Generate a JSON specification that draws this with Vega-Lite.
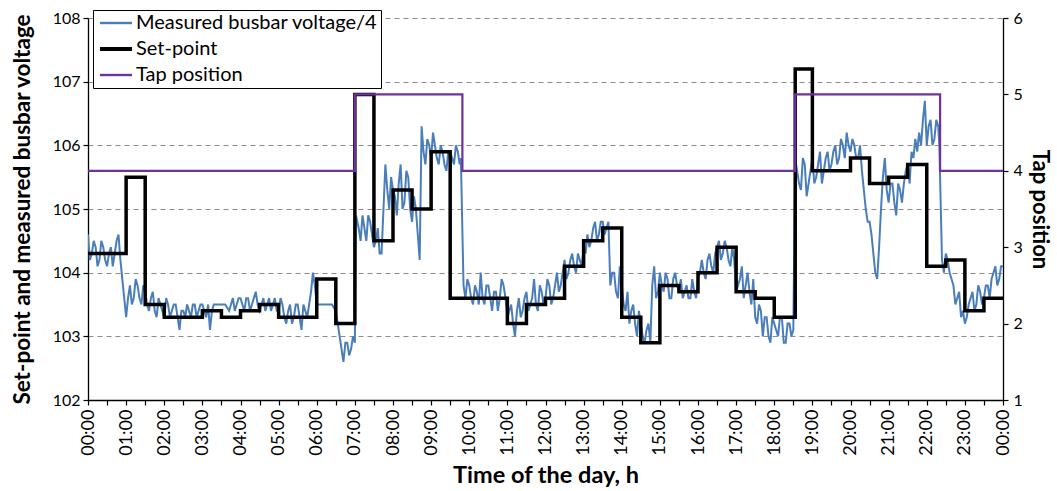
{
  "$schema": "https://vega.github.io/schema/vega-lite/v6.json",
  "width": 915,
  "height": 382,
  "autosize": "none",
  "padding": {"left": 88, "top": 18, "right": 54, "bottom": 91},
  "background": "white",
  "config": {
    "font": "Lato",
    "view": {"stroke": null},
    "axis": {
      "domainColor": "black",
      "domainWidth": 1.3,
      "tickColor": "black",
      "tickWidth": 1.2,
      "tickSize": 5,
      "labelColor": "black",
      "titleColor": "black",
      "labelFont": "Lato",
      "titleFont": "Lato",
      "labelOverlap": false
    },
    "legend": {
      "orient": "none",
      "legendX": 5,
      "legendY": -8,
      "title": null,
      "symbolType": "M-0.46,0H2.0",
      "symbolSize": 676,
      "symbolStrokeWidth": 2.5,
      "labelFontSize": 20,
      "labelLimit": 0,
      "labelColor": "black",
      "labelOffset": 20,
      "padding": 3,
      "rowPadding": 6,
      "strokeColor": "black",
      "fillColor": "white"
    }
  },
  "datasets": {
    "measured": [
      {"t":0.0,"v":104.6},{"t":0.1,"v":104.3},{"t":0.2,"v":104.4},{"t":0.3,"v":104.2},{"t":0.4,"v":104.4},
      {"t":0.5,"v":104.1},{"t":0.6,"v":104.4},{"t":0.7,"v":104.3},{"t":0.8,"v":104.6},{"t":0.9,"v":103.9},
      {"t":1.0,"v":103.3},{"t":1.1,"v":103.8},{"t":1.2,"v":103.6},{"t":1.3,"v":103.8},{"t":1.4,"v":103.5},
      {"t":1.5,"v":103.7},{"t":1.6,"v":103.4},{"t":1.7,"v":103.7},{"t":1.8,"v":103.3},{"t":1.9,"v":103.5},
      {"t":2.0,"v":103.3},{"t":2.1,"v":103.5},{"t":2.2,"v":103.4},{"t":2.3,"v":103.5},{"t":2.4,"v":103.1},
      {"t":2.5,"v":103.4},{"t":2.6,"v":103.5},{"t":2.7,"v":103.3},{"t":2.8,"v":103.5},{"t":2.9,"v":103.4},
      {"t":3.0,"v":103.5},{"t":3.1,"v":103.3},{"t":3.2,"v":103.1},{"t":3.3,"v":103.5},{"t":3.4,"v":103.5},
      {"t":3.5,"v":103.5},{"t":3.6,"v":103.5},{"t":3.7,"v":103.4},{"t":3.8,"v":103.6},{"t":3.9,"v":103.5},
      {"t":4.0,"v":103.6},{"t":4.1,"v":103.4},{"t":4.2,"v":103.6},{"t":4.3,"v":103.5},{"t":4.4,"v":103.7},
      {"t":4.5,"v":103.4},{"t":4.6,"v":103.6},{"t":4.7,"v":103.5},{"t":4.8,"v":103.4},{"t":4.9,"v":103.6},
      {"t":5.0,"v":103.4},{"t":5.1,"v":103.5},{"t":5.2,"v":103.2},{"t":5.3,"v":103.5},{"t":5.4,"v":103.3},
      {"t":5.5,"v":103.5},{"t":5.6,"v":103.1},{"t":5.7,"v":103.4},{"t":5.8,"v":103.5},{"t":5.9,"v":104.0},
      {"t":6.0,"v":103.5},{"t":6.1,"v":103.5},{"t":6.2,"v":103.5},{"t":6.3,"v":103.5},{"t":6.4,"v":103.5},
      {"t":6.5,"v":103.4},{"t":6.6,"v":103.0},{"t":6.7,"v":102.6},{"t":6.8,"v":102.9},{"t":6.9,"v":102.8},
      {"t":7.0,"v":102.9},{"t":7.03,"v":104.9},{"t":7.1,"v":104.7},{"t":7.2,"v":104.9},{"t":7.3,"v":104.5},
      {"t":7.4,"v":104.8},{"t":7.5,"v":104.4},{"t":7.6,"v":104.7},{"t":7.7,"v":104.3},{"t":7.8,"v":105.7},
      {"t":7.9,"v":105.0},{"t":8.0,"v":105.3},{"t":8.1,"v":104.9},{"t":8.2,"v":105.7},{"t":8.3,"v":105.1},
      {"t":8.4,"v":105.5},{"t":8.5,"v":104.8},{"t":8.6,"v":105.0},{"t":8.7,"v":104.2},{"t":8.75,"v":106.3},
      {"t":8.8,"v":105.9},{"t":8.9,"v":106.1},{"t":9.0,"v":105.8},{"t":9.1,"v":106.0},{"t":9.2,"v":105.7},
      {"t":9.3,"v":105.9},{"t":9.4,"v":105.6},{"t":9.5,"v":105.9},{"t":9.6,"v":105.7},{"t":9.7,"v":105.9},
      {"t":9.78,"v":105.8},{"t":9.85,"v":103.8},{"t":9.9,"v":103.6},{"t":10.0,"v":103.8},{"t":10.1,"v":103.5},
      {"t":10.2,"v":103.7},{"t":10.3,"v":104.0},{"t":10.4,"v":103.5},{"t":10.5,"v":103.8},{"t":10.6,"v":103.4},
      {"t":10.7,"v":103.7},{"t":10.8,"v":103.6},{"t":10.9,"v":103.8},{"t":11.0,"v":103.3},{"t":11.1,"v":103.5},
      {"t":11.2,"v":103.0},{"t":11.3,"v":103.6},{"t":11.4,"v":103.4},{"t":11.5,"v":103.7},{"t":11.6,"v":103.5},
      {"t":11.7,"v":103.9},{"t":11.8,"v":103.4},{"t":11.9,"v":103.7},{"t":12.0,"v":103.6},{"t":12.1,"v":103.8},
      {"t":12.2,"v":103.6},{"t":12.3,"v":104.0},{"t":12.4,"v":103.8},{"t":12.5,"v":104.2},{"t":12.6,"v":104.0},
      {"t":12.7,"v":104.3},{"t":12.8,"v":104.0},{"t":12.9,"v":104.2},{"t":13.0,"v":104.4},{"t":13.1,"v":104.6},
      {"t":13.2,"v":104.5},{"t":13.3,"v":104.8},{"t":13.4,"v":104.6},{"t":13.5,"v":104.8},{"t":13.6,"v":104.7},
      {"t":13.7,"v":103.8},{"t":13.8,"v":104.0},{"t":13.9,"v":103.6},{"t":14.0,"v":103.8},{"t":14.1,"v":103.4},
      {"t":14.2,"v":103.2},{"t":14.3,"v":103.5},{"t":14.4,"v":103.0},{"t":14.5,"v":103.2},{"t":14.6,"v":102.9},
      {"t":14.7,"v":103.2},{"t":14.8,"v":103.8},{"t":14.9,"v":103.6},{"t":15.0,"v":104.0},{"t":15.1,"v":103.7},
      {"t":15.2,"v":103.9},{"t":15.3,"v":103.6},{"t":15.4,"v":104.0},{"t":15.5,"v":103.7},{"t":15.6,"v":103.6},
      {"t":15.7,"v":103.8},{"t":15.8,"v":103.6},{"t":15.9,"v":103.7},{"t":16.0,"v":103.9},{"t":16.1,"v":104.2},
      {"t":16.2,"v":103.9},{"t":16.3,"v":104.3},{"t":16.4,"v":104.0},{"t":16.5,"v":104.4},{"t":16.6,"v":104.2},
      {"t":16.7,"v":104.5},{"t":16.8,"v":104.2},{"t":16.9,"v":104.4},{"t":17.0,"v":103.7},{"t":17.1,"v":103.9},
      {"t":17.2,"v":103.6},{"t":17.3,"v":104.0},{"t":17.4,"v":103.5},{"t":17.5,"v":103.3},{"t":17.6,"v":103.5},
      {"t":17.7,"v":103.0},{"t":17.8,"v":103.3},{"t":17.9,"v":102.9},{"t":18.0,"v":103.2},{"t":18.1,"v":103.0},
      {"t":18.2,"v":103.3},{"t":18.3,"v":102.9},{"t":18.4,"v":103.2},{"t":18.5,"v":103.1},{"t":18.55,"v":105.8},
      {"t":18.6,"v":105.6},{"t":18.7,"v":105.3},{"t":18.8,"v":105.7},{"t":18.9,"v":105.4},{"t":19.0,"v":105.8},
      {"t":19.1,"v":105.5},{"t":19.2,"v":105.9},{"t":19.3,"v":105.6},{"t":19.4,"v":105.9},{"t":19.5,"v":105.7},
      {"t":19.6,"v":106.0},{"t":19.7,"v":105.8},{"t":19.8,"v":106.0},{"t":19.9,"v":106.2},{"t":20.0,"v":105.9},
      {"t":20.1,"v":106.0},{"t":20.2,"v":105.8},{"t":20.3,"v":105.6},{"t":20.4,"v":105.0},{"t":20.5,"v":104.8},
      {"t":20.6,"v":104.3},{"t":20.7,"v":103.9},{"t":20.8,"v":105.0},{"t":20.9,"v":105.8},{"t":21.0,"v":105.1},
      {"t":21.1,"v":105.4},{"t":21.2,"v":104.9},{"t":21.3,"v":105.3},{"t":21.4,"v":105.4},{"t":21.5,"v":105.7},
      {"t":21.6,"v":105.9},{"t":21.7,"v":106.1},{"t":21.8,"v":106.2},{"t":21.9,"v":106.4},{"t":21.95,"v":106.7},
      {"t":22.0,"v":106.0},{"t":22.1,"v":106.4},{"t":22.2,"v":106.1},{"t":22.3,"v":106.3},{"t":22.33,"v":106.0},
      {"t":22.4,"v":104.2},{"t":22.5,"v":104.3},{"t":22.6,"v":104.0},{"t":22.7,"v":103.8},{"t":22.8,"v":103.6},
      {"t":22.9,"v":103.3},{"t":23.0,"v":103.2},{"t":23.1,"v":103.5},{"t":23.2,"v":103.7},{"t":23.3,"v":103.5},
      {"t":23.4,"v":103.7},{"t":23.5,"v":103.6},{"t":23.6,"v":103.8},{"t":23.7,"v":103.9},{"t":23.8,"v":104.1},
      {"t":23.9,"v":103.9},{"t":24.0,"v":104.1},
      {"t":0.05,"v":104.2},{"t":0.15,"v":104.5},{"t":0.25,"v":104.1},{"t":0.35,"v":104.5},{"t":0.45,"v":104.2},
      {"t":0.55,"v":104.3},{"t":0.65,"v":104.1},{"t":0.75,"v":104.5},{"t":0.85,"v":104.2},{"t":0.95,"v":103.6},
      {"t":1.05,"v":103.6},{"t":1.15,"v":103.5},{"t":1.25,"v":103.9},{"t":1.35,"v":103.6},{"t":1.45,"v":103.8},
      {"t":1.55,"v":103.5},{"t":1.65,"v":103.6},{"t":1.75,"v":103.4},{"t":1.85,"v":103.6},{"t":1.95,"v":103.4},
      {"t":2.05,"v":103.6},{"t":2.15,"v":103.3},{"t":2.25,"v":103.5},{"t":2.35,"v":103.3},{"t":2.45,"v":103.4},
      {"t":2.55,"v":103.3},{"t":2.65,"v":103.4},{"t":2.75,"v":103.5},{"t":2.85,"v":103.3},{"t":2.95,"v":103.5},
      {"t":3.05,"v":103.4},{"t":3.15,"v":103.5},{"t":3.25,"v":103.4},{"t":3.75,"v":103.5},{"t":3.85,"v":103.4},
      {"t":3.95,"v":103.6},{"t":4.05,"v":103.5},{"t":4.15,"v":103.6},{"t":4.25,"v":103.4},{"t":4.35,"v":103.6},
      {"t":4.45,"v":103.5},{"t":4.55,"v":103.5},{"t":4.65,"v":103.4},{"t":4.75,"v":103.6},{"t":4.85,"v":103.5},
      {"t":4.95,"v":103.4},{"t":5.05,"v":103.6},{"t":5.15,"v":103.3},{"t":5.25,"v":103.4},{"t":5.35,"v":103.2},
      {"t":5.45,"v":103.5},{"t":5.55,"v":103.3},{"t":5.65,"v":103.5},{"t":5.75,"v":103.3},{"t":5.85,"v":103.7},
      {"t":5.95,"v":103.8},{"t":6.55,"v":103.2},{"t":6.65,"v":102.8},{"t":6.75,"v":102.9},{"t":6.85,"v":102.7},
      {"t":6.95,"v":103.0},{"t":7.15,"v":104.5},{"t":7.25,"v":104.7},{"t":7.35,"v":104.9},{"t":7.45,"v":104.6},
      {"t":7.55,"v":104.5},{"t":7.65,"v":104.3},{"t":7.75,"v":105.0},{"t":7.85,"v":105.3},{"t":7.95,"v":105.5},
      {"t":8.05,"v":105.2},{"t":8.15,"v":105.4},{"t":8.25,"v":105.0},{"t":8.35,"v":105.6},{"t":8.45,"v":105.0},
      {"t":8.55,"v":105.2},{"t":8.65,"v":104.6},{"t":8.85,"v":105.7},{"t":8.95,"v":106.0},{"t":9.05,"v":106.2},
      {"t":9.15,"v":105.8},{"t":9.25,"v":106.0},{"t":9.35,"v":105.7},{"t":9.45,"v":105.9},{"t":9.55,"v":105.8},
      {"t":9.65,"v":106.0},{"t":9.75,"v":105.7},{"t":9.95,"v":103.9},{"t":10.05,"v":103.6},{"t":10.15,"v":103.8},
      {"t":10.25,"v":103.5},{"t":10.35,"v":103.6},{"t":10.45,"v":103.8},{"t":10.55,"v":103.6},{"t":10.65,"v":103.7},
      {"t":10.75,"v":103.4},{"t":10.85,"v":103.9},{"t":10.95,"v":103.6},{"t":11.05,"v":103.4},{"t":11.15,"v":103.2},
      {"t":11.25,"v":103.4},{"t":11.35,"v":103.3},{"t":11.45,"v":103.6},{"t":11.55,"v":103.4},{"t":11.65,"v":103.6},
      {"t":11.75,"v":103.5},{"t":11.85,"v":103.8},{"t":11.95,"v":103.5},{"t":12.05,"v":103.9},{"t":12.15,"v":103.5},
      {"t":12.25,"v":103.8},{"t":12.35,"v":103.7},{"t":12.45,"v":104.0},{"t":12.55,"v":103.9},{"t":12.65,"v":104.2},
      {"t":12.75,"v":104.1},{"t":12.85,"v":104.3},{"t":12.95,"v":104.1},{"t":13.05,"v":104.3},{"t":13.15,"v":104.4},
      {"t":13.25,"v":104.7},{"t":13.35,"v":104.5},{"t":13.45,"v":104.8},{"t":13.55,"v":104.6},{"t":13.65,"v":104.8},
      {"t":13.75,"v":104.0},{"t":13.85,"v":103.7},{"t":13.95,"v":104.1},{"t":14.05,"v":103.5},{"t":14.15,"v":103.7},
      {"t":14.25,"v":103.4},{"t":14.35,"v":103.2},{"t":14.45,"v":103.4},{"t":14.55,"v":103.0},{"t":14.65,"v":103.1},
      {"t":14.75,"v":102.9},{"t":14.85,"v":104.1},{"t":14.95,"v":103.7},{"t":15.05,"v":103.8},{"t":15.15,"v":104.0},
      {"t":15.25,"v":103.6},{"t":15.35,"v":103.9},{"t":15.45,"v":103.8},{"t":15.55,"v":103.9},{"t":15.65,"v":103.7},
      {"t":15.75,"v":103.6},{"t":15.85,"v":103.9},{"t":15.95,"v":103.6},{"t":16.05,"v":104.0},{"t":16.15,"v":104.0},
      {"t":16.25,"v":104.2},{"t":16.35,"v":104.1},{"t":16.45,"v":104.3},{"t":16.55,"v":104.5},{"t":16.65,"v":104.3},
      {"t":16.75,"v":104.4},{"t":16.85,"v":104.1},{"t":16.95,"v":104.2},{"t":17.05,"v":103.8},{"t":17.15,"v":104.1},
      {"t":17.25,"v":103.8},{"t":17.35,"v":103.7},{"t":17.45,"v":103.9},{"t":17.55,"v":103.2},{"t":17.65,"v":103.4},
      {"t":17.75,"v":103.3},{"t":17.85,"v":103.0},{"t":17.95,"v":103.3},{"t":18.05,"v":103.1},{"t":18.15,"v":103.3},
      {"t":18.25,"v":102.9},{"t":18.35,"v":103.2},{"t":18.45,"v":103.0},{"t":18.65,"v":105.4},{"t":18.75,"v":105.8},
      {"t":18.85,"v":105.2},{"t":18.95,"v":105.6},{"t":19.05,"v":105.4},{"t":19.15,"v":105.7},{"t":19.25,"v":105.4},
      {"t":19.35,"v":105.8},{"t":19.45,"v":105.6},{"t":19.55,"v":105.9},{"t":19.65,"v":105.7},{"t":19.75,"v":106.1},
      {"t":19.85,"v":105.8},{"t":19.95,"v":106.0},{"t":20.05,"v":106.1},{"t":20.15,"v":105.8},{"t":20.25,"v":106.0},
      {"t":20.35,"v":105.3},{"t":20.45,"v":104.8},{"t":20.55,"v":104.6},{"t":20.65,"v":104.0},{"t":20.75,"v":104.4},
      {"t":20.85,"v":105.5},{"t":20.95,"v":105.3},{"t":21.05,"v":105.4},{"t":21.15,"v":105.1},{"t":21.25,"v":105.4},
      {"t":21.35,"v":105.1},{"t":21.45,"v":105.6},{"t":21.55,"v":105.4},{"t":21.65,"v":105.8},{"t":21.75,"v":105.9},
      {"t":21.85,"v":106.0},{"t":22.05,"v":106.3},{"t":22.15,"v":106.0},{"t":22.25,"v":106.4},{"t":22.45,"v":104.0},
      {"t":22.55,"v":104.2},{"t":22.65,"v":103.9},{"t":22.75,"v":103.5},{"t":22.85,"v":103.7},{"t":22.95,"v":103.4},
      {"t":23.05,"v":103.3},{"t":23.15,"v":103.6},{"t":23.25,"v":103.4},{"t":23.35,"v":103.8},{"t":23.45,"v":103.5},
      {"t":23.55,"v":103.8},{"t":23.65,"v":103.6},{"t":23.75,"v":104.0},{"t":23.85,"v":103.8},{"t":23.95,"v":104.1}
    ],
    "setpoint": [
      {"t":0,"v":104.3},{"t":1.0,"v":105.5},{"t":1.5,"v":103.5},{"t":2.0,"v":103.3},{"t":3.0,"v":103.4},
      {"t":3.5,"v":103.3},{"t":4.0,"v":103.4},{"t":4.5,"v":103.5},{"t":5.0,"v":103.3},{"t":6.0,"v":103.9},
      {"t":6.5,"v":103.2},{"t":7.0,"v":106.8},{"t":7.5,"v":104.5},{"t":8.0,"v":105.3},{"t":8.5,"v":105.0},
      {"t":9.0,"v":105.9},{"t":9.5,"v":103.6},{"t":11.0,"v":103.2},{"t":11.5,"v":103.5},{"t":12.0,"v":103.6},
      {"t":12.5,"v":104.1},{"t":13.0,"v":104.5},{"t":13.5,"v":104.7},{"t":14.0,"v":103.3},{"t":14.5,"v":102.9},
      {"t":15.0,"v":103.8},{"t":15.5,"v":103.7},{"t":16.0,"v":104.0},{"t":16.5,"v":104.4},{"t":17.0,"v":103.7},
      {"t":17.5,"v":103.6},{"t":18.0,"v":103.3},{"t":18.55,"v":107.2},{"t":19.0,"v":105.6},{"t":20.0,"v":105.8},
      {"t":20.5,"v":105.4},{"t":21.0,"v":105.5},{"t":21.5,"v":105.7},{"t":22.0,"v":104.1},{"t":22.5,"v":104.2},
      {"t":23.0,"v":103.4},{"t":23.5,"v":103.6},{"t":24.0,"v":103.6}
    ],
    "tap": [
      {"t":0,"p":4},{"t":7.0,"p":5},{"t":9.82,"p":4},{"t":18.55,"p":5},{"t":22.35,"p":4},{"t":24.0,"p":4}
    ]
  },
  "layer": [
    {
      "layer": [
        {
          "data": {"name": "measured"},
          "mark": {"type": "line", "strokeWidth": 2, "clip": true},
          "encoding": {
            "x": {
              "field": "t",
              "type": "quantitative",
              "scale": {"domain": [0, 24], "nice": false, "zero": false},
              "axis": {
                "values": [0,0.5,1,1.5,2,2.5,3,3.5,4,4.5,5,5.5,6,6.5,7,7.5,8,8.5,9,9.5,10,10.5,11,11.5,12,12.5,13,13.5,14,14.5,15,15.5,16,16.5,17,17.5,18,18.5,19,19.5,20,20.5,21,21.5,22,22.5,23,23.5,24],
                "labelExpr": "datum.value % 1 === 0 ? ((datum.value % 24) < 10 ? '0' : '') + (datum.value % 24) + ':00' : ''",
                "labelAngle": -90,
                "labelAlign": "right",
                "labelBaseline": "middle",
                "labelOverlap": false,
                "labelFontSize": 18,
                "labelPadding": 4,
                "grid": false,
                "title": "Time of the day, h",
                "titleFontSize": 23.5,
                "titleFontWeight": "bold",
                "titlePadding": 8
              }
            },
            "y": {
              "field": "v",
              "type": "quantitative",
              "scale": {"domain": [102, 108], "nice": false, "zero": false},
              "axis": {
                "values": [102,103,104,105,106,107,108],
                "format": "d",
                "labelFontSize": 16,
                "labelPadding": 3,
                "grid": true,
                "gridColor": "#8c8c8c",
                "gridDash": [5, 4],
                "gridWidth": 1.2,
                "title": "Set-point and measured busbar voltage",
                "titleFontSize": 22.5,
                "titleFontWeight": "bold",
                "titlePadding": 18
              }
            },
            "color": {
              "datum": "Measured busbar voltage/4",
              "type": "nominal",
              "scale": {
                "domain": ["Measured busbar voltage/4", "Set-point", "Tap position"],
                "range": ["#4a7ebb", "#000000", "#7030a0"]
              },
              "legend": {
                "encode": {
                  "symbols": {
                    "update": {
                      "strokeWidth": {"signal": "datum.value === 'Set-point' ? 4 : 2.4"}
                    }
                  }
                }
              }
            }
          }
        },
        {
          "data": {"name": "setpoint"},
          "mark": {"type": "line", "interpolate": "step-after", "strokeWidth": 3.5},
          "encoding": {
            "x": {
              "field": "t",
              "type": "quantitative",
              "axis": {
                "values": [0,0.5,1,1.5,2,2.5,3,3.5,4,4.5,5,5.5,6,6.5,7,7.5,8,8.5,9,9.5,10,10.5,11,11.5,12,12.5,13,13.5,14,14.5,15,15.5,16,16.5,17,17.5,18,18.5,19,19.5,20,20.5,21,21.5,22,22.5,23,23.5,24],
                "labelExpr": "datum.value % 1 === 0 ? ((datum.value % 24) < 10 ? '0' : '') + (datum.value % 24) + ':00' : ''",
                "labelAngle": -90,
                "labelAlign": "right",
                "labelBaseline": "middle",
                "labelOverlap": false,
                "labelFontSize": 18,
                "labelPadding": 4,
                "grid": false,
                "title": "Time of the day, h",
                "titleFontSize": 23.5,
                "titleFontWeight": "bold",
                "titlePadding": 8
              }
            },
            "y": {"field": "v", "type": "quantitative"},
            "color": {"datum": "Set-point", "type": "nominal"}
          }
        }
      ]
    },
    {
      "data": {"name": "tap"},
      "mark": {"type": "line", "interpolate": "step-after", "strokeWidth": 2.2},
      "encoding": {
        "x": {
          "field": "t",
          "type": "quantitative",
          "axis": {
            "values": [0,0.5,1,1.5,2,2.5,3,3.5,4,4.5,5,5.5,6,6.5,7,7.5,8,8.5,9,9.5,10,10.5,11,11.5,12,12.5,13,13.5,14,14.5,15,15.5,16,16.5,17,17.5,18,18.5,19,19.5,20,20.5,21,21.5,22,22.5,23,23.5,24],
            "labelExpr": "datum.value % 1 === 0 ? ((datum.value % 24) < 10 ? '0' : '') + (datum.value % 24) + ':00' : ''",
            "labelAngle": -90,
            "labelAlign": "right",
            "labelBaseline": "middle",
            "labelOverlap": false,
            "labelFontSize": 18,
            "labelPadding": 4,
            "grid": false,
            "title": "Time of the day, h",
            "titleFontSize": 23.5,
            "titleFontWeight": "bold",
            "titlePadding": 8
          }
        },
        "y": {
          "field": "p",
          "type": "quantitative",
          "scale": {"domain": [1, 6], "nice": false, "zero": false},
          "axis": {
            "orient": "right",
            "values": [1,2,3,4,5,6],
            "format": "d",
            "labelFontSize": 16,
            "labelPadding": 5,
            "grid": false,
            "title": "Tap position",
            "titleFontSize": 22,
            "titleFontWeight": "bold",
            "titlePadding": 5
          }
        },
        "color": {"datum": "Tap position", "type": "nominal"}
      }
    }
  ],
  "resolve": {"scale": {"y": "independent"}}
}
